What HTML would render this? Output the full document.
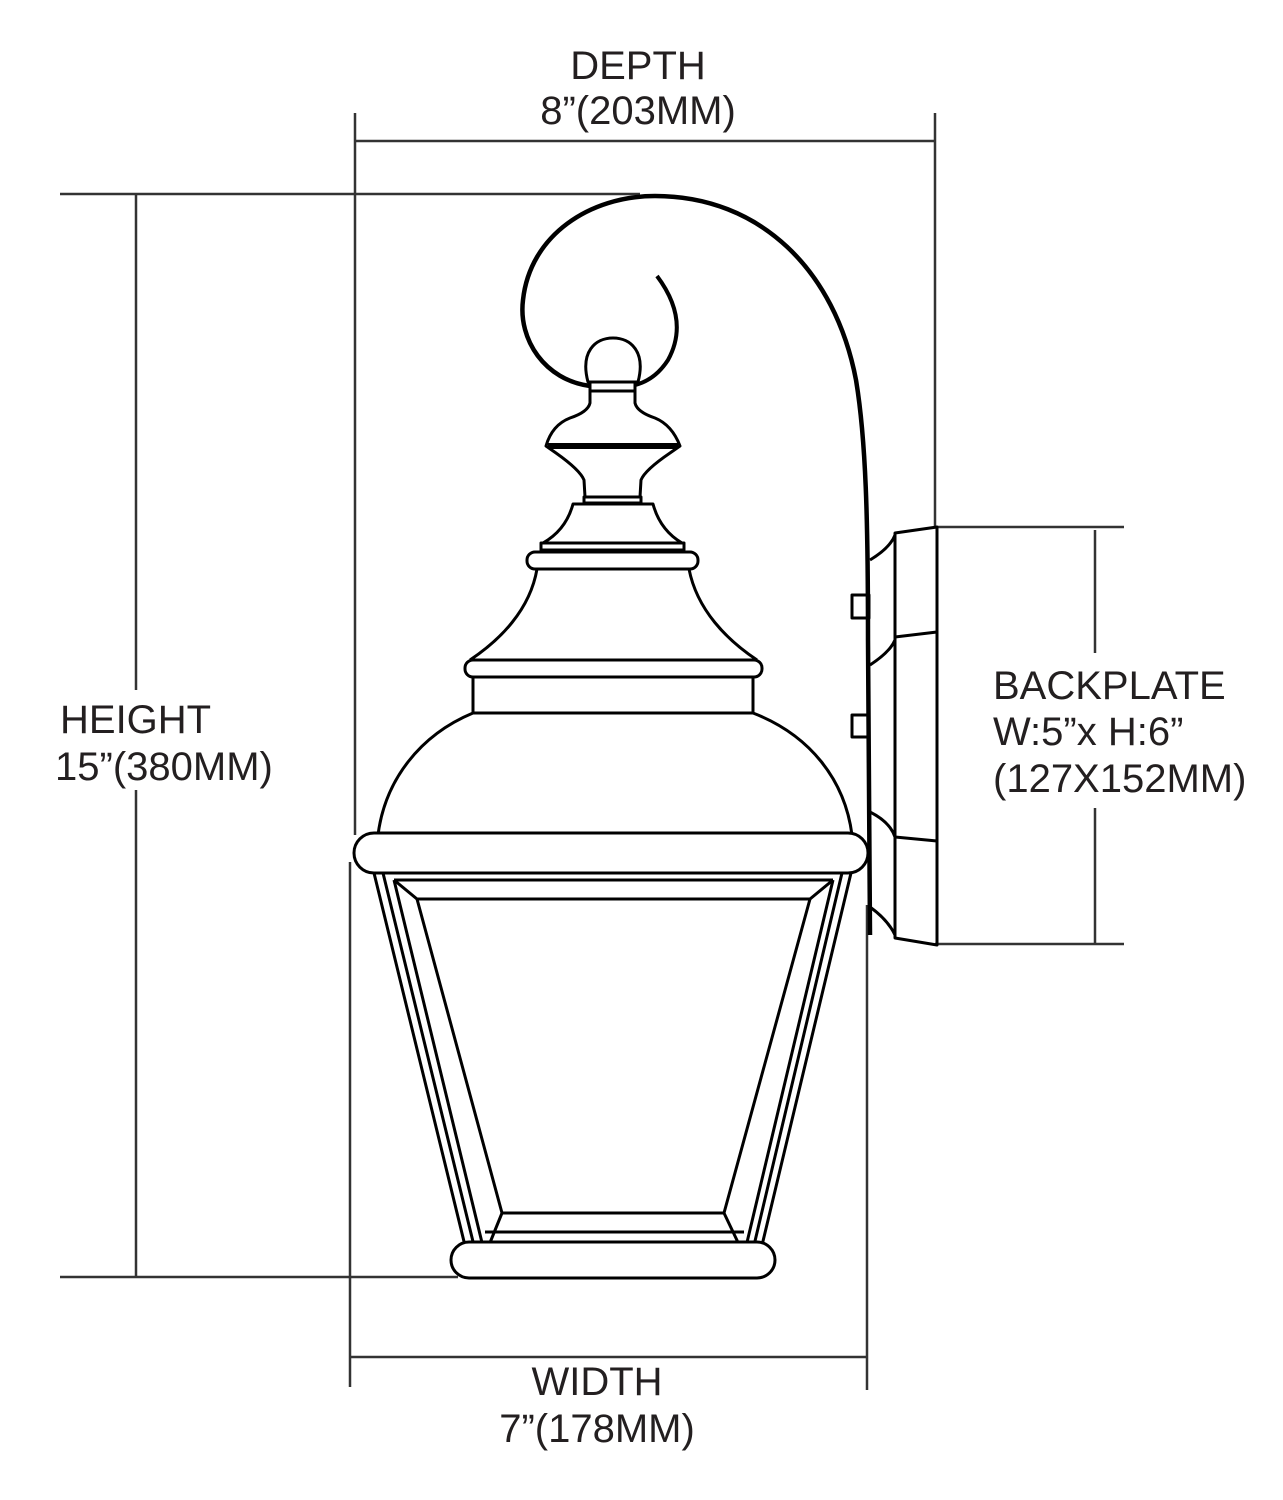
<!DOCTYPE html>
<html><head><meta charset="utf-8"><style>
html,body{margin:0;padding:0;background:#fff;}
svg{display:block;}
text{font-family:"Liberation Sans",Arial,sans-serif;font-size:40px;fill:#231f20;}
</style></head><body>
<svg width="1283" height="1500" viewBox="0 0 1283 1500" xmlns="http://www.w3.org/2000/svg">
<rect width="1283" height="1500" fill="#fff"/>
<g stroke="#333" stroke-width="2.5" fill="none">
<line x1="355" y1="141" x2="935" y2="141"/>
<line x1="355" y1="113" x2="355" y2="835"/>
<line x1="935" y1="113" x2="935" y2="527"/>
<line x1="60" y1="194" x2="640" y2="194"/>
<line x1="60" y1="1277" x2="458" y2="1277"/>
<line x1="136" y1="194" x2="136" y2="690"/>
<line x1="136" y1="790" x2="136" y2="1277"/>
<line x1="350" y1="862" x2="350" y2="1387"/>
<line x1="350" y1="1357" x2="866" y2="1357"/>
<line x1="867" y1="905" x2="867" y2="1390"/>
<line x1="935" y1="527" x2="1124" y2="527"/>
<line x1="935" y1="944" x2="1124" y2="944"/>
<line x1="1095" y1="530" x2="1095" y2="653"/>
<line x1="1095" y1="808" x2="1095" y2="944"/>
</g>
<text x="638" y="79" text-anchor="middle">DEPTH</text>
<text x="638" y="124" text-anchor="middle">8”(203MM)</text>
<text x="60" y="733">HEIGHT</text>
<text x="55" y="780">15”(380MM)</text>
<text x="993" y="699">BACKPLATE</text>
<text x="993" y="745">W:5”x H:6”</text>
<text x="993" y="792">(127X152MM)</text>
<text x="597" y="1395" text-anchor="middle">WIDTH</text>
<text x="597" y="1442" text-anchor="middle">7”(178MM)</text>
<g stroke="#000" stroke-width="3" fill="none" stroke-linejoin="round">
<path d="M657 276 Q690 320 668 360 Q655 380 635 385" stroke-width="4"/>
<path d="M590 386 C545 380 518 340 523 300 C530 235 590 196 655 196 C760 196 835 270 856 380 C866 440 868 520 868 640 L870 935" stroke-width="4.5"/>
<path d="M895 533 L937 527 L937 945 L895 938 Z"/>
<path d="M895 637 L937 632 M895 837 L937 841"/>
<path d="M870 560 Q890 548 895 535 M870 665 Q890 652 895 640 M870 812 Q890 822 895 837 M870 907 Q888 920 895 935"/>
<rect x="852" y="595" width="17" height="23"/>
<rect x="852" y="715" width="17" height="22"/>
<path d="M588 382 C580 352 595 338 613 338 C631 338 646 352 638 382 Z" fill="#fff"/>
<rect x="590" y="382" width="45" height="9" fill="#fff"/>
<path d="M590 391 L590 403 Q588 412 570 418 Q552 425 546 446 L556 453 Q580 470 584 480 L585 497 L640 497 L641 480 Q645 470 670 453 L680 446 Q672 425 655 418 Q637 412 635 403 L635 391 Z" fill="#fff"/>
<line x1="548" y1="446" x2="678" y2="446" stroke-width="6"/>
<rect x="584" y="497" width="57" height="6" fill="#fff"/>
<path d="M573 504 L653 504 Q660 530 682 543 L543 543 Q566 530 573 504 Z" fill="#fff"/>
<rect x="541" y="543" width="143" height="7" fill="#fff"/>
<rect x="527" y="552" width="171" height="17" rx="8" fill="#fff"/>
<path d="M537 569 C530 610 500 640 470 660 M689 569 C697 610 727 640 757 660"/>
<rect x="465" y="660" width="297" height="17" rx="8" fill="#fff"/>
<rect x="473" y="677" width="280" height="36" fill="#fff"/>
<path d="M473 713 C420 735 385 780 378 835 M753 713 C810 735 845 780 852 835"/>
<rect x="354" y="833" width="514" height="40" rx="20" fill="#fff"/>
<path d="M374 873 L469 1262 M383 873 L477 1258 M394 880 L485 1255"/>
<path d="M851 873 L758 1262 M842 873 L751 1258 M833 880 L744 1255"/>
<path d="M394 880 L833 880"/>
<path d="M417 899 L810 899 L724 1213 L502 1213 Z"/>
<path d="M417 899 L394 880 M810 899 L833 880 M502 1213 L485 1255 M724 1213 L744 1255"/>
<path d="M485 1232 L744 1232 M469 1242 L758 1242"/>
<rect x="451" y="1242" width="324" height="36" rx="18" fill="#fff"/>
</g>
</svg>
</body></html>
